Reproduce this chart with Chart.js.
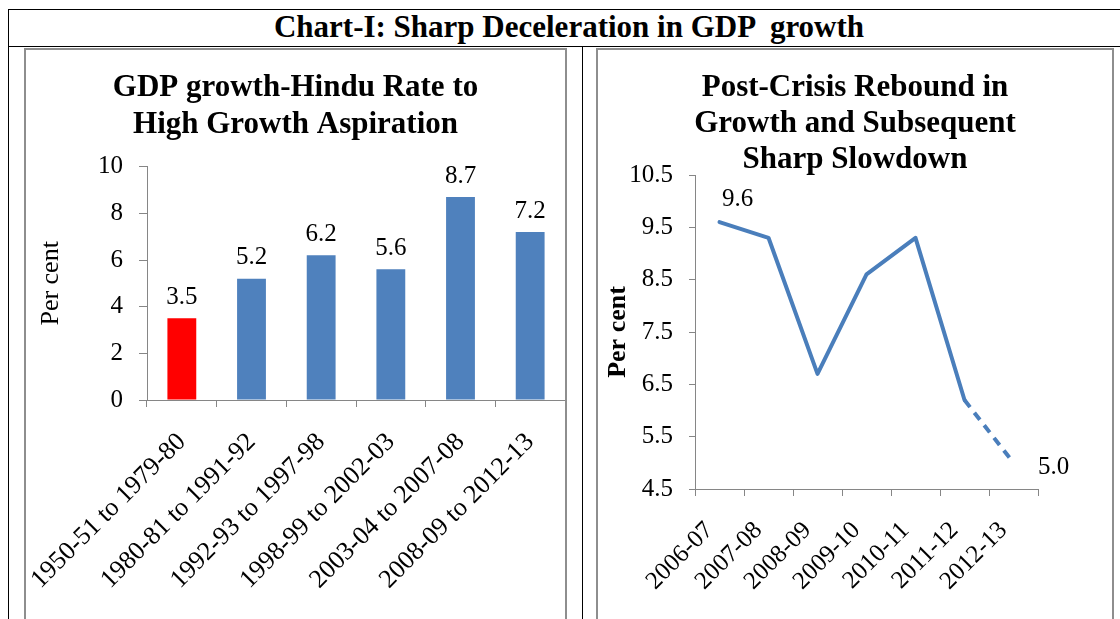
<!DOCTYPE html>
<html>
<head>
<meta charset="utf-8">
<script src="https://cdn.jsdelivr.net/npm/chart.js@4/dist/chart.umd.min.js"></script>
<style>
  html, body { margin: 0; padding: 0; background: #fff; width: 1120px; height: 619px; overflow: hidden; position: relative; }
  .abs { position: absolute; box-sizing: border-box; }
  #frame { left: 8px; top: 9px; width: 1122px; height: 700px; border: 1px solid #000; }
  #hline { left: 8px; top: 46px; width: 1122px; height: 1px; background: #000; }
  #vline { left: 582px; top: 46px; width: 1px; height: 700px; background: #000; }
  #header { left: 8px; top: 9px; width: 1122px; height: 37px; line-height: 37px; text-align: center;
            font: bold 31px "Liberation Serif", "Times New Roman", serif; white-space: pre; color: #000; }
  .box { border: 2px solid #8e8e8e; top: 48px; height: 700px; }
  #lbox { left: 24px; width: 543px; }
  #rbox { left: 596px; width: 518px; }
  canvas { position: absolute; }
  #c1 { left: 26px; top: 50px; }
  #c2 { left: 598px; top: 50px; }
</style>
</head>
<body>
<div class="abs" id="frame"></div>
<div class="abs" id="hline"></div>
<div class="abs" id="vline"></div>
<div class="abs" id="header">Chart-I: Sharp Deceleration in GDP  growth</div>
<div class="abs box" id="lbox"></div>
<div class="abs box" id="rbox"></div>
<canvas id="c1" width="539" height="569"></canvas>
<canvas id="c2" width="514" height="569"></canvas>
<script>
// ---- Data ----
const periods = ['1950-51 to 1979-80', '1980-81 to 1991-92', '1992-93 to 1997-98',
                 '1998-99 to 2002-03', '2003-04 to 2007-08', '2008-09 to 2012-13'];
const periodGrowth = [3.5, 5.2, 6.2, 5.6, 8.7, 7.2];
const periodTicks = [0, 2, 4, 6, 8, 10];

const years = ['2006-07', '2007-08', '2008-09', '2009-10', '2010-11', '2011-12', '2012-13'];
const yearGrowth = [9.6, 9.3, 6.7, 8.6, 9.3, 6.2, 5.0];
const yearTicks = [4.5, 5.5, 6.5, 7.5, 8.5, 9.5, 10.5];
const labelledYears = [0, 6];

const title1 = ['GDP growth-Hindu Rate to', 'High Growth Aspiration'];
const title2 = ['Post-Crisis Rebound in', 'Growth and Subsequent', 'Sharp Slowdown'];
const yTitle = 'Per cent';

// ---- Styles ----
const SERIF = '"Liberation Serif", "Times New Roman", serif';
const AXIS = '#868686';
const BLUE = '#4F81BD';
const RED = '#FF0000';
const LINE = '#4A7EBB';

Chart.defaults.font.family = SERIF;
Chart.defaults.color = '#000';

const valueLabels = {
  id: 'valueLabels',
  afterDatasetsDraw(chart, args, opts) {
    const meta = chart.getDatasetMeta(0);
    const data = chart.data.datasets[0].data;
    const ctx = chart.ctx;
    ctx.save();
    ctx.font = opts.font;
    ctx.fillStyle = '#000';
    ctx.textAlign = 'center';
    ctx.textBaseline = 'middle';
    meta.data.forEach((el, i) => {
      if (opts.only && !opts.only.includes(i)) return;
      const off = opts.offsets ? opts.offsets[i] : opts.offset;
      ctx.fillText(data[i].toFixed(1), el.x + off[0], el.y + off[1]);
    });
    ctx.restore();
  }
};

function setTicks(list) {
  return (scale) => { scale.ticks = list.map(v => ({ value: v })); };
}
function fixX(h) {
  return (s) => { s.height = h; s.paddingLeft = 0; s.paddingRight = 0; };
}

// ---- Left: bar chart ----
new Chart(document.getElementById('c1'), {
  type: 'bar',
  data: {
    labels: periods,
    datasets: [{
      data: periodGrowth,
      backgroundColor: (c) => c.dataIndex === 0 ? RED : BLUE,
      borderWidth: 0,
      categoryPercentage: 1,
      barPercentage: 0.414
    }]
  },
  plugins: [valueLabels],
  options: {
    responsive: false,
    animation: false,
    devicePixelRatio: 1,
    layout: { padding: 0, autoPadding: false },
    plugins: {
      legend: { display: false },
      tooltip: { enabled: false },
      title: {
        display: true, text: title1, color: '#000',
        font: { family: SERIF, size: 31, weight: 'bold', lineHeight: '37px' },
        padding: { top: 19.5, bottom: 23.2 }
      },
      valueLabels: { font: '25px ' + SERIF, offset: [0, -21] }
    },
    scales: {
      x: {
        grid: { display: true, drawOnChartArea: false, drawTicks: true, tickLength: 7, color: AXIS, offset: true },
        border: { display: true, color: AXIS, width: 1 },
        ticks: { font: { size: 26 }, color: '#000', minRotation: 45, maxRotation: 45, autoSkip: false, padding: 20, labelOffset: 0 },
        afterFit: fixX(219)
      },
      y: {
        min: 0, max: 10,
        afterBuildTicks: setTicks(periodTicks),
        grid: { display: true, drawOnChartArea: false, drawTicks: true, tickLength: 8, color: AXIS },
        border: { display: true, color: AXIS, width: 1 },
        ticks: { font: { size: 25 }, color: '#000', padding: 16 },
        title: { display: true, text: yTitle, color: '#000', font: { size: 26 }, padding: { top: 9.4, bottom: 0 } },
        afterFit: (s) => { s.width = 121; }
      }
    }
  }
});

// ---- Right: line chart ----
new Chart(document.getElementById('c2'), {
  type: 'line',
  data: {
    labels: years,
    datasets: [{
      data: yearGrowth,
      borderColor: LINE,
      borderWidth: 4,
      borderCapStyle: 'round',
      borderJoinStyle: 'round',
      pointRadius: 0,
      tension: 0,
      fill: false,
      segment: {
        borderDash: (c) => c.p1DataIndex === years.length - 1 ? [9, 7] : undefined,
        borderCapStyle: (c) => c.p1DataIndex === years.length - 1 ? 'butt' : 'round'
      }
    }]
  },
  plugins: [valueLabels],
  options: {
    responsive: false,
    animation: false,
    devicePixelRatio: 1,
    layout: { padding: 0, autoPadding: false },
    plugins: {
      legend: { display: false },
      tooltip: { enabled: false },
      title: {
        display: true, text: title2, color: '#000',
        font: { family: SERIF, size: 31, weight: 'bold', lineHeight: '36px' },
        padding: { top: 20, bottom: -3 }
      },
      valueLabels: { font: '25px ' + SERIF, only: labelledYears, offsets: { 0: [18, -23], 6: [40, 5] } }
    },
    scales: {
      x: {
        offset: true,
        grid: { display: true, drawOnChartArea: false, drawTicks: true, tickLength: 7, color: AXIS, offset: true },
        border: { display: true, color: AXIS, width: 1 },
        ticks: { font: { size: 25 }, color: '#000', minRotation: 45, maxRotation: 45, autoSkip: false, padding: 20, labelOffset: -10 },
        afterFit: fixX(130)
      },
      y: {
        min: 4.5, max: 10.5,
        afterBuildTicks: setTicks(yearTicks),
        grid: { display: true, drawOnChartArea: false, drawTicks: true, tickLength: 6, color: AXIS },
        border: { display: true, color: AXIS, width: 1 },
        ticks: { font: { size: 25 }, color: '#000', padding: 16, callback: (v) => Number(v).toFixed(1) },
        title: { display: true, text: yTitle, color: '#000', font: { size: 26, weight: 'bold' }, padding: { top: 4.4, bottom: 0 } },
        afterFit: (s) => { s.width = 97; }
      },
      y2: {
        position: 'right',
        display: true,
        grid: { display: false, drawTicks: false },
        border: { display: false },
        ticks: { display: false },
        afterFit: (s) => { s.width = 74; }
      }
    }
  }
});
</script>
</body>
</html>
